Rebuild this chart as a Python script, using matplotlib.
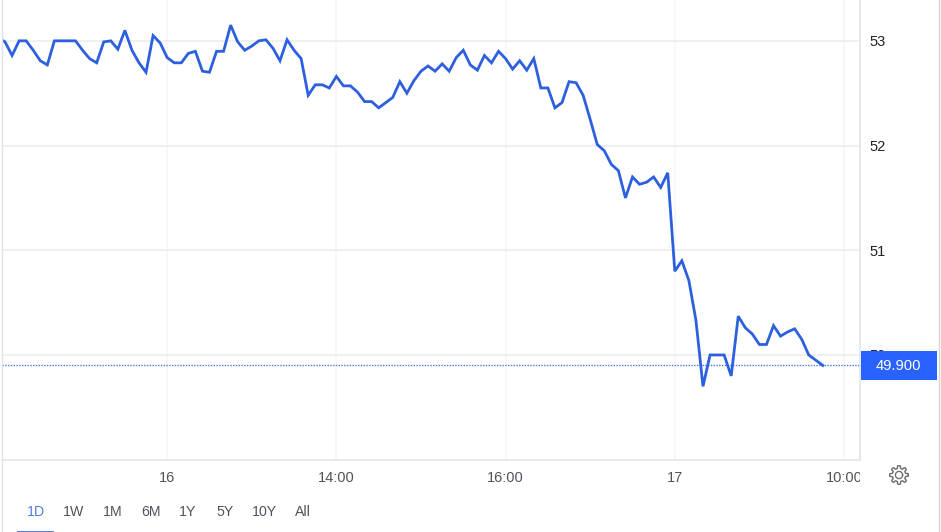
import matplotlib
matplotlib.use("Agg")
import matplotlib.pyplot as plt
from matplotlib.patches import Rectangle
from matplotlib.transforms import Bbox, TransformedBbox
import numpy as np

plt.rcParams['font.family'] = ['Liberation Sans', 'DejaVu Sans']

# prices, one every 5 minutes
prices = [53.03, 52.99, 52.86, 53.00, 53.00, 52.91, 52.81, 52.77, 53.00, 53.00,
          53.00, 53.00, 52.91, 52.83, 52.79, 52.99, 53.00, 52.92, 53.10, 52.91,
          52.79, 52.70, 53.05, 52.98, 52.84, 52.79, 52.79, 52.88, 52.90, 52.71,
          52.70, 52.90, 52.90, 53.15, 52.99, 52.91, 52.95, 53.00, 53.01, 52.93,
          52.81, 53.01, 52.91, 52.83, 52.48, 52.58, 52.58, 52.55, 52.66, 52.57,
          52.57, 52.51, 52.42, 52.42, 52.36, 52.41, 52.46, 52.61, 52.50, 52.62,
          52.71, 52.76, 52.71, 52.78, 52.71, 52.84, 52.91, 52.77, 52.72, 52.86,
          52.79, 52.90, 52.83, 52.73, 52.81, 52.72, 52.83, 52.55, 52.55, 52.36,
          52.41, 52.61, 52.60, 52.48, 52.25, 52.01, 51.95, 51.82, 51.76, 51.50,
          51.70, 51.63, 51.65, 51.70, 51.60, 51.74, 50.80, 50.90, 50.71, 50.33,
          49.70, 50.00, 50.00, 50.00, 49.80, 50.37, 50.26, 50.20, 50.10, 50.10,
          50.28, 50.18, 50.22, 50.25, 50.15, 50.00, 49.95, 49.90]
steps = list(range(-1, len(prices) - 1))

x_ticks = [23, 47, 71, 95, 119]
x_labels = ['16', '14:00', '16:00', '17', '10:00']
y_ticks = [50, 51, 52, 53]
last_price = 49.90
ranges = ['1D', '1W', '1M', '6M', '1Y', '5Y', '10Y', 'All']
range_px = [35.5, 74, 113, 151, 188, 225, 264, 303]

W, H = 941, 532
BLUE = '#2d60de'
BOX = '#2962ff'
GREY = '#50535e'
GRID = '#ececee'
VGRID = '#f5f5f6'
EDGE = '#e2e3e6'

fig = plt.figure(figsize=(W / 100, H / 100), dpi=100, facecolor='white')
ax = fig.add_axes([2 / W, 1 - 460 / H, 858 / W, 460 / H])

ax.plot(steps, prices, color=BLUE, lw=2, solid_joinstyle='miter', zorder=3)
ax.axhline(last_price, color='#4a78e0', lw=1, ls=(0, (1, 1)), zorder=2)

ax.set_xlim(-0.43, 121.27)
ax.set_ylim(48.997, 53.39)
ax.set_xticks(x_ticks, x_labels)
ax.set_yticks(y_ticks)
ax.yaxis.tick_right()
ax.grid(True, axis='y', color=GRID, lw=1.1)
ax.grid(True, axis='x', color=VGRID, lw=1.1)
ax.set_axisbelow(True)
ax.tick_params(length=0, labelsize=10.5)
ax.tick_params(axis='x', pad=8, labelcolor=GREY)
ax.tick_params(axis='y', pad=6.5, labelcolor='#222222')

for side in ['top', 'left']:
    ax.spines[side].set_visible(False)
for side in ['right', 'bottom']:
    ax.spines[side].set_color(EDGE)
    ax.spines[side].set_linewidth(1.1)

# 10:00 gets cut by the price scale
clip = TransformedBbox(Bbox([[0, -0.2], [1, 1]]), ax.transAxes)
for lab in ax.get_xticklabels():
    lab.set_clip_box(clip)
    lab.set_clip_on(True)

# outer frame lines
fig.add_artist(plt.Line2D([1.5 / W, 1.5 / W], [0, 1], color=EDGE, lw=1))
fig.add_artist(plt.Line2D([938.5 / W, 938.5 / W], [0, 1], color='#d5d6da', lw=1))

# price box on top of the 50 label
fig.add_artist(Rectangle((861 / W, 1 - 380 / H), 76 / W, 29 / H, color=BOX, lw=0, zorder=10))
fig.text(898.5 / W, 1 - 366 / H, '%.3f' % last_price, color='white', fontsize=10.6,
         ha='center', va='center', zorder=11)

# range buttons
for name, px in zip(ranges, range_px):
    fig.text(px / W, 1 - 511.5 / H, name, fontsize=10.2, ha='center', va='center',
             color='#4f7fe0' if name == '1D' else GREY)
fig.add_artist(Rectangle((17 / W, 1 - 532 / H), 37 / W, 1.5 / H, color='#4f7fe0', lw=0))

# settings gear
gear = fig.add_axes([889 / W, 1 - 485 / H, 20 / W, 20 / H])
t = np.linspace(0, 2 * np.pi, 361)
r = 8 + 1.3 * np.clip(3 * np.cos(8 * t), -1, 1)
gear.plot(r * np.cos(t), r * np.sin(t), color='#707070', lw=1)
gear.plot(3.6 * np.cos(t), 3.6 * np.sin(t), color='#707070', lw=1)
gear.set_xlim(-10, 10)
gear.set_ylim(-10, 10)
gear.axis('off')

fig.savefig('out.png', dpi=100)
